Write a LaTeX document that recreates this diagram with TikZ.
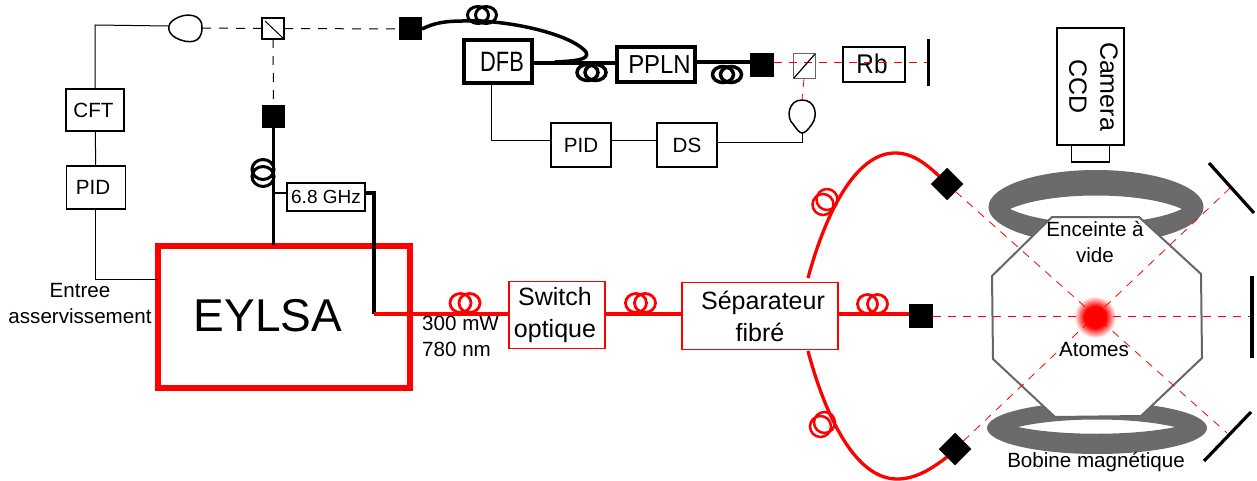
\documentclass[tikz,border=0pt]{standalone}
\usepackage{fontspec}
\setmainfont{Liberation Sans}
\usetikzlibrary{positioning,calc}
\definecolor{laser}{HTML}{FF0000}
\definecolor{coilgrey}{HTML}{6B6B6B}
\definecolor{wallgrey}{HTML}{666666}
\pgfdeclareradialshading{atomglow}{\pgfpoint{0bp}{0bp}}{color(0bp)=(laser); color(13bp)=(laser); color(25bp)=(white); color(50bp)=(white)}
\tikzset{
  box/.style={draw=black, fill=white, line width=#1, inner sep=0pt, outer sep=0pt, align=center},
  box/.default=1.5pt,
  lbl/.style={inner sep=0pt, align=center, font=\fontsize{20.6}{26}\selectfont},
  sq/.style={fill=black, inner sep=0pt, outer sep=0pt, minimum size=#1},
  sq/.default=23pt,
  wire/.style={line width=1pt},
  fibre/.style={line width=3.5pt},
  redfibre/.style={line width=3.3pt, draw=laser},
  beamk/.style={line width=1pt, dash pattern=on 9pt off 8pt},
  beamr/.style={line width=0.8pt, draw=laser, dash pattern=on 8pt off 7pt},
  mirror/.style={line width=3.2pt},
  diode/.style={line width=1.5pt, fill=white},
}
\begin{document}
\begin{tikzpicture}[x=1pt, y=-1pt]
  \useasboundingbox (0,0) rectangle (1257,481);
  % magnet coils sit under the chamber
  \fill[coilgrey, even odd rule] (1096,207) ellipse [x radius=107.5, y radius=37]
    (1010,209) .. controls (1050,191) and (1142,191) .. (1182,209) .. controls (1142,228) and (1050,228) .. (1010,209);
  \fill[coilgrey, even odd rule] (1097,428) ellipse [x radius=110, y radius=26]
    (1018,427) .. controls (1060,417) and (1133,417) .. (1175,427) .. controls (1133,436) and (1060,436) .. (1018,427);
  \draw[draw=wallgrey, fill=white, line width=2pt] (1052,217) -- (1139,217) -- (1201,274) -- (1202,358) -- (1141,416) -- (1055,417) -- (993,359) -- (992,276) -- cycle;
  \shade[shading=atomglow] (1095,317) circle (21);
  % source row
  \node[box, minimum width=58pt, minimum height=42pt, font=\fontsize{20.6}{24}\selectfont] (cft) at (95,110) {\hspace*{-3pt}CFT};
  \node[box, below=35pt of cft, minimum width=59pt, minimum height=43pt, font=\fontsize{20.6}{24}\selectfont, xshift=1pt] (pid1) {PID\hspace*{6pt}};
  \node[box=5.5pt, minimum width=252pt, minimum height=142pt, draw=laser, font=\fontsize{46}{50}\selectfont] (eylsa) at (284,317) {\raisebox{3pt}{EYLSA\hspace{32pt}}};
  \node[box=2.6pt, minimum width=78pt, minimum height=28pt, font=\fontsize{19}{20}\selectfont] (sixg) at (326,197) {6.8 GHz};
  \node[box, minimum width=22pt, minimum height=21pt] (bs1) at (273,28.5) {};
  \node[sq] (sq1) at (410.5,29) {};
  \node[sq] (sq2) at (273.5,117) {};
  \node[lbl] (entree) at (80,304) {Entree\\asservissement};
  % repumper row
  \node[box=3.8pt, minimum width=68pt, minimum height=43pt, font=\fontsize{28}{30}\selectfont] (dfb) at (498,61.5) {\hspace*{8pt}\scalebox{0.78}[1]{DFB}};
  \node[box=3.2pt, minimum width=78pt, minimum height=35pt, font=\fontsize{26}{28}\selectfont] (ppln) at (656,64.5) {\hspace*{7pt}\scalebox{0.92}[1]{PPLN}};
  \node[sq=24pt] (sq3) at (762,65.5) {};
  \node[box=1pt, draw=wallgrey, minimum width=22pt, minimum height=25pt] (bs2) at (804,66.5) {};
  \node[box=1.8pt, minimum width=62pt, minimum height=35pt, font=\fontsize{27}{28}\selectfont] (rb) at (874,64.5) {\raisebox{2pt}{\scalebox{0.9}[1]{Rb}}\hspace*{4pt}};
  \node[box, minimum width=60pt, minimum height=44pt, font=\fontsize{20.6}{24}\selectfont] (pid2) at (581,145) {PID};
  \node[box, right=46pt of pid2, minimum width=60pt, minimum height=44pt, font=\fontsize{20.6}{24}\selectfont] (ds) {DS};
  \coordinate (mirrorRbt) at (928.5,39);
  \coordinate (mirrorRbb) at (928.5,86);
  \coordinate (rbend) at (928.5,62.5);
  % detectors
  \draw[diode] (202,28) .. controls (203,14) and (186,12) .. (175,19) .. controls (166,24) and (167,33) .. (176,38) .. controls (188,44) and (202,44) .. (202,28) -- cycle;
  \draw[diode] (802,100) .. controls (788,100) and (786,118) .. (793,124) .. controls (797,130) and (800,133) .. (802,133) .. controls (805,133) and (808,130) .. (812,124) .. controls (818,116) and (816,100) .. (802,100) -- cycle;
  \coordinate (pd1a) at (168,26);
  \coordinate (pd1b) at (202,28);
  \coordinate (pd2a) at (802,100);
  \coordinate (pd2b) at (802,133);
  % main laser row
  \node[box=1.8pt, draw=laser, minimum width=96pt, minimum height=67pt, font=\fontsize{25}{32}\selectfont] (switch) at (557,315) {Switch\hspace*{4pt}\\optique\hspace*{4pt}};
  \node[box=1.8pt, draw=laser, minimum width=156pt, minimum height=67pt, font=\fontsize{25}{32}\selectfont] (split) at (760,316) {\hspace*{6pt}Séparateur\\fibré};
  \node[lbl, anchor=north west, align=left] (power) at (422,316) {300 mW\\780 nm};
  \node[sq=24pt] (sq4) at (921,315.5) {};
  \node[sq=23pt, rotate=45] (dia1) at (947,184) {};
  \node[sq=23pt, rotate=45] (dia2) at (955,449) {};
  % camera
  \node[box, minimum width=67pt, minimum height=117pt] (camera) at (1090.5,86.5) {};
  \node[lbl, rotate=-90, font=\fontsize{25}{31}\selectfont] (cameratxt) at ([xshift=3pt]camera.center) {Camera\\CCD};
  \node[box, below=0pt of camera, minimum width=38pt, minimum height=17pt] (lens) {};
  % wires
  \foreach \a/\b in {cft/pid1} \draw[wire] (\a) -- (\b);
  \draw[wire] (pd1a) -- (95,25) -- (cft.north -| 95,0);
  \draw[wire] (pid1.south -| 95,0) -- (95,279) -- (eylsa.west |- 0,279);
  \draw[wire] (dfb.south -| 491,0) -- (491,141) -- (pid2.west |- 0,141);
  \draw[wire] (pid2.east |- 0,141) -- (ds.west |- 0,141);
  \draw[wire] (ds.east |- 0,143) -- (802,143) -- (pd2b);
  % black fibres
  \draw[fibre] (sq2.south) -- (273.5,245);
  \draw[line width=2.6pt] (273.5,193) -- (sixg.west |- 0,193);
  \draw[line width=3.2pt] (sixg.east |- 0,193) -- (374,193) -- (374,314);
  \draw[fibre] (sq1.east) .. controls (440,20) and (455,21) .. (481,21) .. controls (530,24) and (575,38) .. (586,52) .. controls (590,60) and (575,61) .. (555,62);
  \draw[fibre] (dfb.east |- 0,63) -- (ppln.west |- 0,63);
  \draw[fibre] (ppln.east |- 0,62) -- (sq3.west |- 0,62);
  % red fibres
  \draw[redfibre] (374,314) -- (switch.west |- 0,314);
  \draw[redfibre] (switch.east |- 0,314) -- (split.west |- 0,314);
  \draw[redfibre] (split.east |- 0,314) -- (sq4.west |- 0,314);
  \draw[redfibre] (808,278) .. controls (825,215) and (855,153) .. (895,153) .. controls (912,153) and (925,163) .. (dia1.north);
  \draw[redfibre] (808,351) .. controls (825,415) and (855,479) .. (897,479) .. controls (915,479) and (930,470) .. (dia2.west);
  % fibre coils
  \foreach \cx/\cy/\dx/\dy/\rx/\ry/\w/\col in {482/15/8/0/10.5/8.5/3/black, 591.5/72.5/8/0/10.5/8/3.5/black, 727/74.5/8/0/10.5/8/3.5/black, 263/173/0/7/11/10/3/black, 465/303/9/0/10.5/9.5/2.8/laser, 640.5/303/9/0/10.5/9.5/2.8/laser, 872.5/304/10/0/10/9.5/2.8/laser, 825/202/4/-5/10.5/10.5/2.5/laser, 822.5/424.5/4/-4/10.5/10.5/2.5/laser}
    \foreach \s in {-1,1} \draw[line width=\w pt, draw=\col] (\cx+\s*\dx/2,\cy+\s*\dy/2) ellipse [x radius=\rx, y radius=\ry];
  % beams
  \coordinate (endA) at (1227,433);
  \coordinate (endB) at (1230,188);
  \draw[beamk] (pd1b) -- (bs1.west);
  \draw[beamk] (bs1.east) -- (sq1.west);
  \draw[beamk] (bs1.south) -- (sq2.north);
  \draw[beamr] (sq3.east |- 0,62.5) -- (rbend);
  \draw[beamr] (bs2.south) -- (pd2a);
  \draw[beamr] (sq4.east |- 0,316) -- (1250,316);
  \draw[beamr] (dia1) -- (endA);
  \draw[beamr] (dia2) -- (endB);
  % splitter faces
  \draw[line width=1pt] (265,21) -- (bs1.south east);
  \draw[line width=1.2pt] (794,78) -- (bs2.north east);
  % mirrors
  \draw[mirror] (mirrorRbt) -- (mirrorRbb);
  \draw[line width=3.8pt] (1252,276) -- (1252,358);
  \draw[mirror] (1209,163) -- (1254,213);
  \draw[mirror] (1251,412) -- (1204,461);
  % chamber labels
  \node[lbl] (chamber) at (1095,242) {Enceinte à\\vide};
  \node[lbl] (atoms) at (1094,350) {Atomes};
  \node[lbl] (magnet) at (1096,462) {Bobine magnétique};
\end{tikzpicture}
\end{document}
